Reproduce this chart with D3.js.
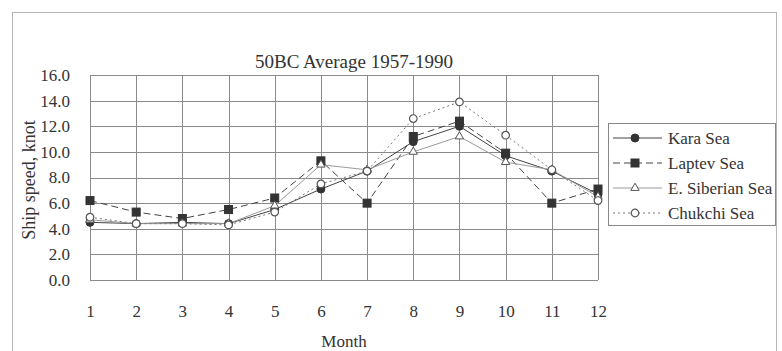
<!DOCTYPE html>
<html><head><meta charset="utf-8">
<script src="https://cdn.jsdelivr.net/npm/d3@7"></script>
<style>body{margin:0;background:#fff}svg{display:block}text{font-family:"Liberation Serif","DejaVu Serif",serif;fill:#333}</style>
</head><body>
<svg id="c" width="782" height="351"></svg>
<script>
const months = [1,2,3,4,5,6,7,8,9,10,11,12];
const yTicks = [0,2,4,6,8,10,12,14,16];
const seriesNames = ["Kara Sea","Laptev Sea","E. Siberian Sea","Chukchi Sea"];
const kara     = [4.5,4.4,4.5,4.4,5.5,7.1,8.5,10.8,12.0,9.7,8.5,6.7];
const laptev   = [6.2,5.3,4.8,5.5,6.4,9.3,6.0,11.2,12.4,9.9,6.0,7.1];
const eSiberian= [4.7,4.4,4.4,4.4,5.8,9.0,8.6,10.0,11.2,9.2,8.6,6.5];
const chukchi  = [4.9,4.4,4.4,4.3,5.3,7.5,8.5,12.6,13.9,11.3,8.6,6.2];
const title = "50BC Average 1957-1990";
const xTitle = "Month";
const yTitle = "Ship speed, knot";

const svg = d3.select("#c");
const L=90,R=598,T=75,B=280;
const x = d3.scaleLinear().domain([1,12]).range([L,R]);
const y = d3.scaleLinear().domain([0,16]).range([B,T]);
const FF = "Liberation Serif";

// outer frame
svg.append("rect").attr("x",12.5).attr("y",12.5).attr("width",764).attr("height",345)
  .attr("fill","none").attr("stroke","#b5b5b5").attr("stroke-width",1);

// grid
const g = svg.append("g");
g.selectAll("line.h").data(yTicks).join("line")
  .attr("x1",L).attr("x2",R).attr("y1",d=>Math.round(y(d))+0.5).attr("y2",d=>Math.round(y(d))+0.5)
  .attr("stroke","#8a8a8a").attr("stroke-width",1);
g.selectAll("line.v").data(months).join("line")
  .attr("y1",T).attr("y2",B).attr("x1",d=>Math.round(x(d))+0.5).attr("x2",d=>Math.round(x(d))+0.5)
  .attr("stroke","#8a8a8a").attr("stroke-width",1);

// axes
const yAxis = d3.axisLeft(y).tickValues(yTicks).tickFormat(d3.format(".1f")).tickSize(0).tickPadding(20);
const ya = svg.append("g").attr("transform",`translate(${L},0)`).call(yAxis);
ya.select(".domain").remove();
ya.selectAll("text").style("font-size","17px").style("font-family",FF).style("fill","#333");
const xAxis = d3.axisBottom(x).tickValues(months).tickSize(0).tickPadding(25);
const xa = svg.append("g").attr("transform",`translate(0,${B})`).call(xAxis);
xa.select(".domain").remove();
xa.selectAll("text").style("font-size","17px").style("font-family",FF).style("fill","#333");

svg.append("text").attr("x",354).attr("y",68).attr("text-anchor","middle").style("font-size","19px").text(title);
svg.append("text").attr("x",344).attr("y",347).attr("text-anchor","middle").style("font-size","17px").text(xTitle);
svg.append("text").attr("transform","translate(35,180) rotate(-90)").attr("text-anchor","middle").style("font-size","18px").text(yTitle);

const styles = [
  {data:kara, dash:null, stroke:"#444", w:1, marker:"circle", fill:"#333"},
  {data:laptev, dash:"7,4", stroke:"#444", w:1, marker:"square", fill:"#333"},
  {data:eSiberian, dash:null, stroke:"#9a9a9a", w:1, marker:"triangle", fill:"#fff"},
  {data:chukchi, dash:"2,3", stroke:"#777", w:1, marker:"ocircle", fill:"#fff"}
];
const line = d3.line().x((d,i)=>x(months[i])).y(d=>y(d));
function marker(sel, type, fill){
  if(type==="circle") sel.append("circle").attr("r",4).attr("fill",fill).attr("stroke","#333");
  else if(type==="square") sel.append("rect").attr("x",-4).attr("y",-4).attr("width",8).attr("height",8).attr("fill",fill).attr("stroke","#333");
  else if(type==="triangle") sel.append("path").attr("d",d3.symbol(d3.symbolTriangle,30)()).attr("fill",fill).attr("stroke","#555");
  else sel.append("circle").attr("r",3.8).attr("fill",fill).attr("stroke","#555").attr("stroke-width",1.2);
}
styles.forEach(s=>{
  svg.append("path").datum(s.data).attr("d",line).attr("fill","none")
    .attr("stroke",s.stroke).attr("stroke-width",s.w).attr("stroke-dasharray",s.dash);
});
styles.forEach(s=>{
  s.data.forEach((v,i)=>{
    const m = svg.append("g").attr("transform",`translate(${x(months[i])},${y(v)})`);
    marker(m,s.marker,s.fill);
  });
});

// legend
const lg = svg.append("g");
lg.append("rect").attr("x",608.5).attr("y",123.5).attr("width",167).attr("height",102)
  .attr("fill","#fff").attr("stroke","#888");
seriesNames.forEach((n,i)=>{
  const s = styles[i], yy = 138 + i*25;
  lg.append("line").attr("x1",613).attr("x2",662).attr("y1",yy).attr("y2",yy)
    .attr("stroke",s.stroke).attr("stroke-dasharray",s.dash);
  const m = lg.append("g").attr("transform",`translate(635,${yy})`);
  marker(m,s.marker,s.fill);
  lg.append("text").attr("x",668).attr("y",yy+5.5).style("font-size","17px").text(n);
});
</script>
</body></html>
